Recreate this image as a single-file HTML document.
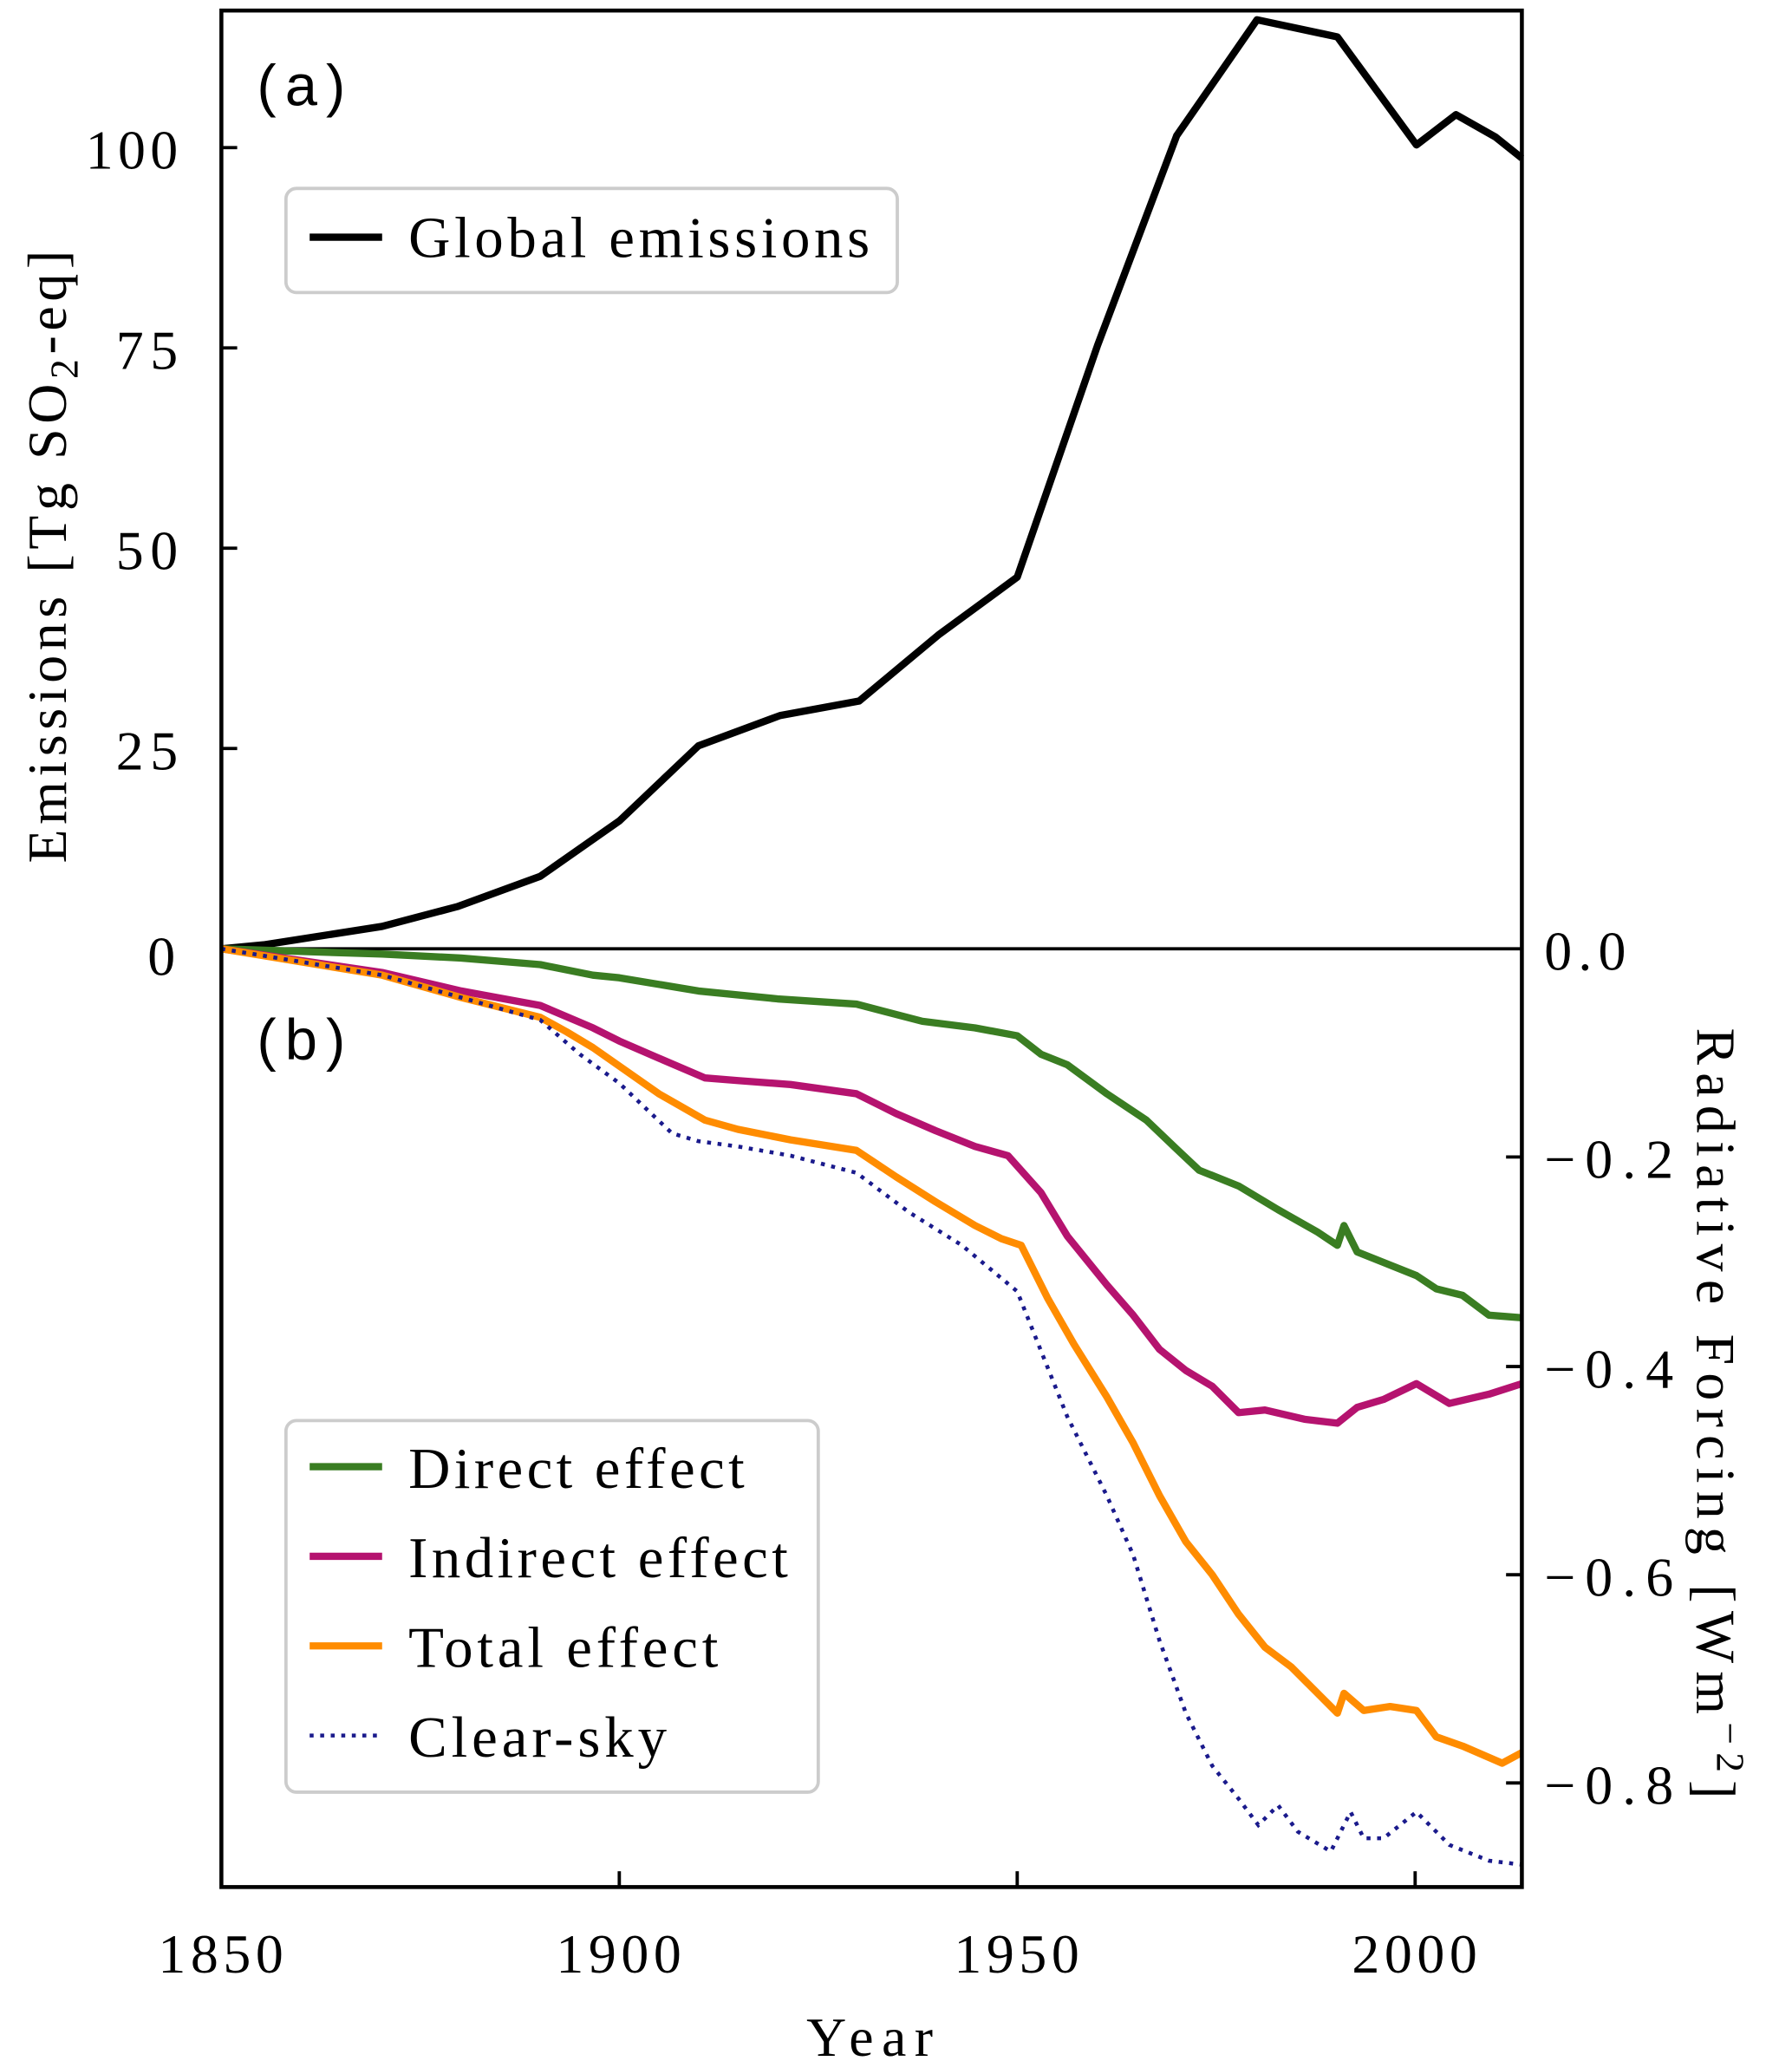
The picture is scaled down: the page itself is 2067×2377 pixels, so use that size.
<!DOCTYPE html>
<html><head><meta charset="utf-8"><style>html,body{margin:0;padding:0;background:#fff}svg{display:block}</style></head>
<body>
<svg width="2067" height="2377" viewBox="0 0 1360 1564" xmlns="http://www.w3.org/2000/svg" font-family="Liberation Serif, serif">
<rect width="1360" height="1564" fill="#fff"/>
<polyline fill="none" stroke="#000" stroke-width="5.5" stroke-linejoin="round" points="168,720 200,717 290,703 347,688 410,665 470,623 530,566 592,543 652,532 712,482 772,438 833,262 893,103 954,15 1015,28 1075,110 1105,87 1135,104 1155,120"/>
<line x1="168" y1="720" x2="1155" y2="720" stroke="#000" stroke-width="2.5"/>
<polyline fill="none" stroke="#3a7d22" stroke-width="5.5" stroke-linejoin="round" points="168,720 290,724 350,727 410,732 450,740 470,742 530,752 590,758 650,762 700,775 740,780 772,786 790,800 810,808 840,830 870,850 893,872 910,888 940,900 970,918 1000,935 1015,945 1020,930 1030,950 1050,958 1075,968 1090,978 1110,983 1130,998 1155,1000"/>
<polyline fill="none" stroke="#b5136f" stroke-width="5.5" stroke-linejoin="round" points="168,720 290,738 350,752 410,763 450,780 470,790 500,803 535,818 560,820 600,823 650,830 680,845 710,858 740,870 765,877 790,905 810,938 840,975 860,998 880,1024 900,1040 920,1052 940,1072 960,1070 990,1077 1015,1080 1030,1068 1050,1062 1075,1050 1100,1065 1130,1058 1155,1050"/>
<polyline fill="none" stroke="#ff8c00" stroke-width="5.5" stroke-linejoin="round" points="168,720 290,740 350,757 410,772 430,783 450,795 500,830 535,850 560,857 600,865 650,873 680,893 710,912 740,930 760,940 775,945 795,985 815,1020 840,1060 860,1095 880,1135 900,1170 920,1195 940,1225 960,1250 980,1265 1000,1285 1015,1300 1020,1285 1035,1298 1055,1295 1075,1298 1090,1318 1110,1325 1140,1338 1155,1330"/>
<polyline fill="none" stroke="#1a1a8c" stroke-width="3" stroke-dasharray="3,5" points="168,720 290,740 350,757 410,774 440,800 470,822 510,860 530,866 560,870 600,877 650,890 690,920 730,945 772,980 790,1025 810,1075 840,1135 860,1180 880,1245 900,1300 920,1340 940,1365 955,1385 970,1370 985,1390 1010,1405 1025,1375 1035,1395 1050,1395 1075,1375 1100,1400 1130,1412 1155,1415"/>
<rect x="168" y="8" width="987" height="1424" fill="none" stroke="#000" stroke-width="3"/>
<g stroke="#000" stroke-width="2.5">
<line x1="168" y1="112" x2="180" y2="112"/><line x1="168" y1="264" x2="180" y2="264"/><line x1="168" y1="416" x2="180" y2="416"/><line x1="168" y1="568" x2="180" y2="568"/>
<line x1="1155" y1="878" x2="1143" y2="878"/><line x1="1155" y1="1037" x2="1143" y2="1037"/><line x1="1155" y1="1195" x2="1143" y2="1195"/><line x1="1155" y1="1353" x2="1143" y2="1353"/>
<line x1="470" y1="1432" x2="470" y2="1420"/><line x1="772" y1="1432" x2="772" y2="1420"/><line x1="1074" y1="1432" x2="1074" y2="1420"/>
</g>
<g font-size="42" fill="#000">
<text x="65" y="128" textLength="70">100</text><text x="88" y="280" textLength="47">75</text><text x="88" y="432" textLength="47">50</text><text x="88" y="584" textLength="47">25</text><text x="112" y="740" textLength="23">0</text>
<text x="1172" y="736" textLength="62">0.0</text><text x="1172" y="894" textLength="98">−0.2</text><text x="1172" y="1053" textLength="98">−0.4</text><text x="1172" y="1211" textLength="98">−0.6</text><text x="1172" y="1369" textLength="98">−0.8</text>
<text x="120" y="1497" textLength="95">1850</text><text x="422" y="1497" textLength="95">1900</text><text x="724" y="1497" textLength="95">1950</text><text x="1026" y="1497" textLength="95">2000</text>
<text x="612" y="1560" textLength="96">Year</text>
</g>
<text transform="translate(50,655) rotate(-90)" font-size="42" textLength="465">Emissions [Tg SO<tspan font-size="30" dy="9">2</tspan><tspan dy="-9">-eq]</tspan></text>
<text transform="translate(1288,780) rotate(90)" font-size="42" textLength="585">Radiative Forcing [Wm<tspan font-size="30" dy="-15">−2</tspan><tspan dy="15">]</tspan></text>
<g font-family="Liberation Sans, sans-serif" font-size="44"><text x="195" y="80" textLength="67">(a)</text><text x="195" y="804" textLength="67">(b)</text></g>
<rect x="217" y="143" width="464" height="79" rx="8" fill="#fff" stroke="#ccc" stroke-width="2.5"/>
<line x1="235" y1="180" x2="290" y2="180" stroke="#000" stroke-width="5.5"/>
<text x="310" y="195" font-size="44" textLength="350">Global emissions</text>
<rect x="217" y="1078" width="404" height="282" rx="8" fill="#fff" stroke="#ccc" stroke-width="2.5"/>
<line x1="235" y1="1113" x2="290" y2="1113" stroke="#3a7d22" stroke-width="5.5"/>
<line x1="235" y1="1181" x2="290" y2="1181" stroke="#b5136f" stroke-width="5.5"/>
<line x1="235" y1="1249" x2="290" y2="1249" stroke="#ff8c00" stroke-width="5.5"/>
<line x1="235" y1="1317" x2="290" y2="1317" stroke="#1a1a8c" stroke-width="3" stroke-dasharray="3,5"/>
<g font-size="44"><text x="310" y="1129" textLength="255">Direct effect</text><text x="310" y="1197" textLength="288">Indirect effect</text><text x="310" y="1265" textLength="235">Total effect</text><text x="310" y="1333" textLength="196">Clear-sky</text></g>
</svg>
</body></html>
